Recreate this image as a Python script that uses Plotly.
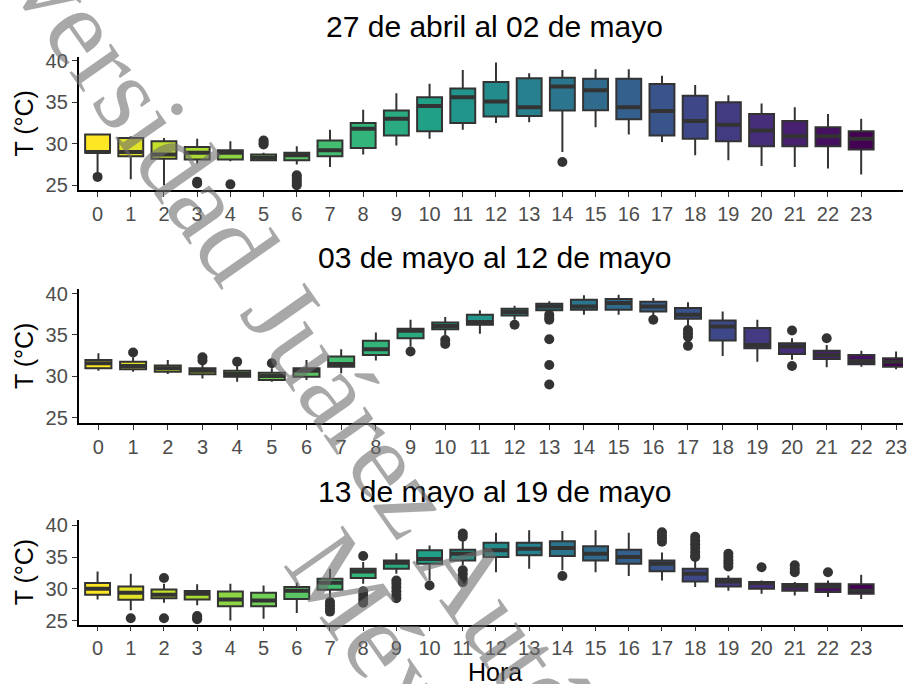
import plotly.graph_objects as go
from plotly.colors import sample_colorscale

# ---------------- data ----------------
hours = list(range(24))
hour_labels = [str(h) for h in hours]
y_ticks = [25, 30, 35, 40]
panel_titles = ["27 de abril al 02 de mayo", "03 de mayo al 12 de mayo", "13 de mayo al 19 de mayo"]
y_title = "T (°C)"
x_title = "Hora"
watermark_line1 = "Universidad Juárez Autónoma de Tabasco"
watermark_line2 = "México"

# Panel 1: 27 abril - 02 mayo
p1_lo = [26.3, 25.7, 25.0, 27.6, 27.9, 27.9, 27.5, 27.2, 28.7, 29.8, 30.6, 31.7, 32.5, 32.6, 29.0, 32.0, 31.1, 30.2, 28.6, 28.0, 27.3, 27.2, 27.0, 26.3]
p1_q1 = [28.9, 28.5, 28.2, 28.1, 28.1, 28.0, 28.0, 28.5, 29.5, 31.0, 31.5, 32.5, 33.3, 33.35, 34.0, 34.05, 32.95, 31.0, 30.6, 30.3, 29.7, 29.7, 29.7, 29.3]
p1_med = [29.0, 29.0, 28.7, 28.9, 28.9, 28.3, 28.6, 29.2, 31.8, 33.0, 34.55, 35.6, 35.1, 34.4, 36.9, 36.45, 34.4, 33.95, 32.75, 32.3, 31.6, 30.9, 30.9, 30.6]
p1_q3 = [31.1, 30.7, 30.3, 29.6, 29.2, 28.7, 28.9, 30.4, 32.5, 34.0, 35.6, 36.65, 37.45, 37.9, 37.95, 37.85, 37.85, 37.2, 35.8, 35.0, 33.6, 32.75, 32.0, 31.5]
p1_hi = [31.2, 30.9, 30.7, 30.6, 30.3, 28.9, 29.7, 31.7, 34.1, 36.1, 37.25, 38.9, 39.8, 38.5, 38.9, 39.0, 39.0, 38.2, 37.1, 35.85, 34.85, 34.4, 33.6, 33.0]
p1_out_hour = [0, 3, 3, 4, 5, 5, 5, 6, 6, 6, 6, 6, 14]
p1_out_temp = [26.0, 25.4, 25.2, 25.1, 29.9, 30.1, 30.4, 25.0, 25.3, 25.6, 25.9, 26.2, 27.8]

# Panel 2: 03 - 12 mayo
p2_lo = [30.68, 30.55, 30.27, 29.74, 29.34, 29.34, 29.54, 30.35, 31.9, 33.6, 35.0, 35.14, 36.84, 37.6, 37.45, 37.45, 37.3, 36.2, 32.46, 31.77, 32.0, 31.1, 31.16, 30.84]
p2_q1 = [30.96, 30.84, 30.55, 30.23, 29.95, 29.54, 29.95, 31.16, 32.58, 34.61, 35.7, 36.23, 37.37, 37.98, 38.06, 38.06, 37.85, 36.96, 34.33, 33.39, 32.7, 32.1, 31.45, 31.16]
p2_med = [31.57, 31.25, 30.96, 30.68, 30.27, 30.03, 30.68, 31.49, 33.27, 35.5, 36.1, 36.56, 37.77, 38.46, 38.46, 38.87, 38.46, 37.45, 36.03, 33.8, 33.6, 32.58, 31.85, 31.77]
p2_q3 = [31.97, 31.77, 31.29, 30.96, 30.68, 30.43, 30.96, 32.38, 34.29, 35.75, 36.52, 37.45, 38.18, 38.79, 39.27, 39.35, 39.03, 38.26, 36.76, 35.83, 34.0, 33.1, 32.58, 32.18]
p2_hi = [32.79, 32.3, 31.97, 31.57, 31.25, 30.96, 31.97, 33.27, 35.3, 36.84, 37.17, 37.98, 38.54, 39.07, 39.8, 39.88, 39.48, 38.95, 37.85, 36.84, 34.6, 33.8, 33.1, 32.99]
p2_out_hour = [1, 3, 3, 4, 5, 9, 10, 10, 12, 13, 13, 13, 13, 13, 13, 16, 17, 17, 17, 17, 20, 20, 21]
p2_out_temp = [32.87, 32.3, 31.9, 31.77, 31.57, 32.99, 34.4, 33.9, 36.23, 37.45, 37.1, 36.84, 34.49, 31.37, 29.01, 36.84, 35.6, 35.2, 34.8, 33.68, 35.54, 31.25, 34.6]

# Panel 3: 13 - 19 mayo
p3_lo = [28.3, 26.6, 27.8, 27.4, 25.0, 25.26, 26.2, 28.16, 30.8, 32.37, 31.3, 33.7, 32.6, 33.16, 32.9, 32.6, 32.0, 31.3, 30.26, 29.7, 29.2, 28.95, 28.7, 28.4]
p3_q1 = [29.05, 28.26, 28.5, 28.3, 27.26, 27.26, 28.4, 29.84, 31.68, 33.16, 33.95, 34.47, 35.0, 35.26, 35.16, 34.47, 33.95, 32.74, 31.16, 30.37, 30.0, 29.7, 29.47, 29.2]
p3_med = [30.0, 29.37, 29.05, 29.2, 28.3, 28.16, 29.7, 30.95, 32.7, 34.1, 34.7, 35.5, 36.05, 36.3, 36.4, 35.5, 35.0, 33.95, 32.37, 31.16, 30.9, 30.37, 30.37, 29.7]
p3_q3 = [30.9, 30.37, 29.9, 29.63, 29.58, 29.37, 30.26, 31.58, 33.16, 34.47, 36.05, 36.16, 37.26, 37.26, 37.47, 36.7, 36.16, 34.47, 33.16, 31.58, 31.05, 30.74, 30.8, 30.7]
p3_hi = [32.7, 32.37, 30.8, 30.7, 30.8, 30.5, 30.95, 33.16, 34.2, 35.6, 36.8, 37.6, 38.84, 39.2, 39.1, 39.2, 38.84, 35.7, 34.47, 32.1, 31.3, 31.05, 31.3, 32.2]
p3_out_hour = [1, 2, 2, 3, 3, 3, 7, 7, 7, 7, 8, 8, 8, 8, 8, 9, 9, 9, 9, 9, 9, 10, 11, 11, 11, 11, 11, 11,
               14, 17, 17, 17, 17, 18, 18, 18, 18, 18, 18, 18, 19, 19, 19, 19, 19, 20, 21, 21, 21, 22]
p3_out_temp = [25.37, 31.7, 25.37, 25.7, 25.4, 25.2, 27.9, 27.4, 26.9, 26.4, 35.16, 29.6, 29.0, 28.4, 27.8,
               31.3, 30.8, 30.2, 29.6, 29.0, 28.5, 30.5, 38.7, 38.2, 32.9, 32.3, 31.6, 31.05,
               32.0, 38.9, 38.4, 37.9, 37.4, 38.2, 37.6, 37.0, 36.4, 35.8, 35.2, 35.0, 35.5, 35.0, 34.5, 34.0, 33.5,
               33.4, 33.7, 33.1, 32.6, 32.6]

# ---------------- styling / layout ----------------
W, H = 907, 684
VK = 700 / 684  # compensates the vertical squeeze seen in the rendered photo
def fx(px):
    return px / W
def fy(py):
    return 1 - ((py - 8) * VK) / H

fill_colors = sample_colorscale("Viridis", [i / 23 for i in range(24)])[::-1]
DARK = "#333333"
BOX_W = 0.75
SANS = "Liberation Sans, Arial, sans-serif"

panels = [
    dict(lo=p1_lo, q1=p1_q1, med=p1_med, q3=p1_q3, hi=p1_hi, oh=p1_out_hour, ot=p1_out_temp,
         xr=[-0.57, 24.26], yr=[24.4, 40.45], top=58, bot=190.7, title_y=27, tlo="hide past div"),
    dict(lo=p2_lo, q1=p2_q1, med=p2_med, q3=p2_q3, hi=p2_hi, oh=p2_out_hour, ot=p2_out_temp,
         xr=[-0.57, 23.2], yr=[24.3, 40.57], top=289.3, bot=423.3, title_y=258, tlo="allow"),
    dict(lo=p3_lo, q1=p3_q1, med=p3_med, q3=p3_q3, hi=p3_hi, oh=p3_out_hour, ot=p3_out_temp,
         xr=[-0.57, 24.26], yr=[24.37, 40.79], top=520, bot=624, title_y=491, tlo="hide past div"),
]

fig = go.Figure()
annotations = []
layout_axes = {}

for i, p in enumerate(panels, start=1):
    xa = "x" if i == 1 else f"x{i}"
    ya = "y" if i == 1 else f"y{i}"
    for h in hours:
        fig.add_trace(go.Box(
            x=[h], q1=[p["q1"][h]], median=[p["med"][h]], q3=[p["q3"][h]],
            lowerfence=[p["lo"][h]], upperfence=[p["hi"][h]],
            fillcolor=fill_colors[h], line=dict(color=DARK, width=2),
            whiskerwidth=0, width=BOX_W, boxpoints=False,
            xaxis=xa, yaxis=ya, showlegend=False, hoverinfo="skip"))
    # thicker median bars (ggplot style)
    mx, my = [], []
    for h in hours:
        mx += [h - BOX_W / 2 + 0.02, h + BOX_W / 2 - 0.02, None]
        my += [p["med"][h], p["med"][h], None]
    fig.add_trace(go.Scatter(x=mx, y=my, mode="lines", line=dict(color=DARK, width=4),
                             xaxis=xa, yaxis=ya, showlegend=False, hoverinfo="skip"))
    fig.add_trace(go.Scatter(x=p["oh"], y=p["ot"], mode="markers",
                             marker=dict(color=DARK, size=10, line=dict(width=0)),
                             xaxis=xa, yaxis=ya, showlegend=False, hoverinfo="skip"))

    ax_common = dict(showline=True, linecolor="black", linewidth=1.6, ticks="outside",
                     ticklen=5, tickwidth=1.3, tickcolor=DARK, showgrid=False, zeroline=False,
                     tickfont=dict(family=SANS, size=20, color="#4d4d4d"))
    layout_axes["xaxis" if i == 1 else f"xaxis{i}"] = dict(
        ax_common, domain=[fx(79), 1.0], range=p["xr"], anchor=ya,
        tickmode="array", tickvals=hours, ticktext=hour_labels, ticklabeloverflow=p["tlo"])
    layout_axes["yaxis" if i == 1 else f"yaxis{i}"] = dict(
        ax_common, domain=[fy(p["bot"]), fy(p["top"])], range=p["yr"], anchor=xa,
        tickmode="array", tickvals=y_ticks, ticktext=[str(t) for t in y_ticks])

    annotations.append(dict(text=panel_titles[i - 1], x=fx(497), y=fy(p["title_y"]),
                            xref="paper", yref="paper", xanchor="center", yanchor="middle",
                            showarrow=False, font=dict(family=SANS, size=30, color="black")))
    annotations.append(dict(text=y_title, x=fx(24), y=fy((p["top"] + p["bot"]) / 2),
                            xref="paper", yref="paper", xanchor="center", yanchor="middle",
                            textangle=-90, showarrow=False,
                            font=dict(family=SANS, size=25, color="black")))

annotations.append(dict(text=x_title, x=fx(497), y=fy(671), xref="paper", yref="paper",
                        xanchor="center", yanchor="middle", showarrow=False,
                        font=dict(family=SANS, size=25, color="black")))

# watermark
WM_FONT = dict(family="Liberation Serif, Times New Roman, serif", size=110, color="rgba(110,110,110,0.6)")
annotations.append(dict(text=watermark_line1, x=fx(476), y=fy(586), xref="paper", yref="paper",
                        xanchor="center", yanchor="middle", textangle=55, showarrow=False, font=WM_FONT))
annotations.append(dict(text=watermark_line2, x=fx(411), y=fy(680), xref="paper", yref="paper",
                        xanchor="center", yanchor="middle", textangle=55, showarrow=False, font=WM_FONT))

fig.update_layout(
    width=W, height=H, margin=dict(l=0, r=0, t=0, b=0),
    paper_bgcolor="white", plot_bgcolor="white",
    showlegend=False, annotations=annotations, **layout_axes)

fig.write_html("out.html", config={"displayModeBar": False},
               post_script="document.body.style.margin='0';document.body.style.overflow='hidden';")
